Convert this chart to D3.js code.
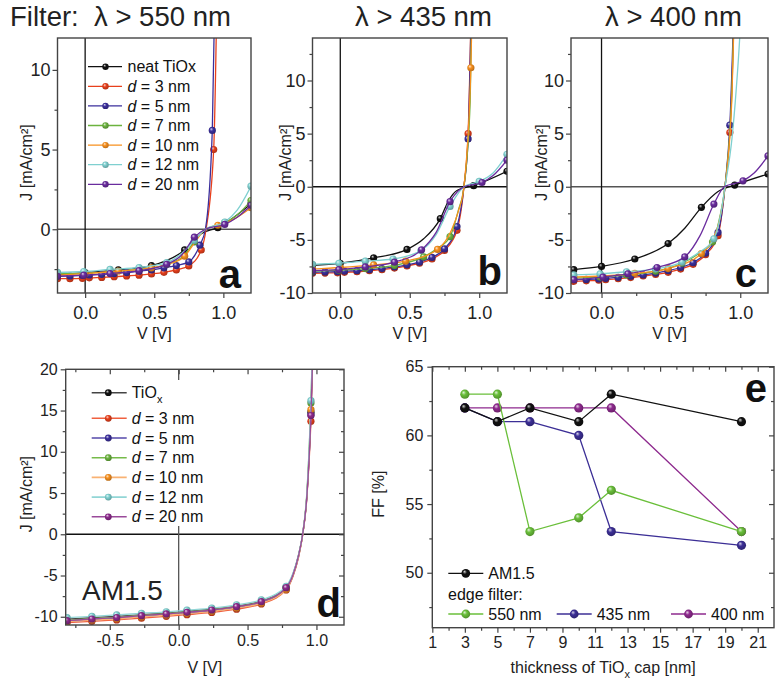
<!DOCTYPE html>
<html><head><meta charset="utf-8">
<script src="https://cdn.jsdelivr.net/npm/d3@7"></script>
<style>body{margin:0;background:#fff}svg{display:block}</style>
</head><body>
<svg id="chart" width="779" height="687"></svg>
<script>
const FONT = "'Liberation Sans', Arial, Helvetica, sans-serif";

// ---------- shared labels ----------
const filterTitles = ["Filter:  \u03bb > 550 nm", "\u03bb > 435 nm", "\u03bb > 400 nm"];
const seriesLabels = ["neat TiOx", "3", "5", "7", "10", "12", "20"];
const seriesColors = ["#111111", "#e8401c", "#3b2f9c", "#6cb33f", "#f7901e", "#7fd0d0", "#6a2c9e"];
const seriesColorsD = ["#111111", "#e8401c", "#3b2f9c", "#6cb33f", "#f7901e", "#7fd0d0", "#8c2a8c"];
const lineColorsD = ["#444444", "#f0603f", "#5548aa", "#76bb4a", "#f9b273", "#92d6d6", "#9a4a9a"];

// ---------- panel a: lambda > 550 nm  [V, J, marker?] ----------
const jvA = [
  [[-0.2,-2.85],[0,-2.72],[0.24,-2.55],[0.48,-2.28],[0.72,-1.3],[0.84,-0.28,0],[0.96,0.1],[1.2,1.6]],
  [[-0.2,-3.1],[-0.11,-3.1],[-0.02,-3.08],[0.03,-3.05],[0.12,-3.02],[0.21,-2.98],[0.3,-2.93],[0.39,-2.88],[0.48,-2.8],[0.57,-2.7],[0.66,-2.55],[0.75,-2.3],[0.84,-1.3],[0.875,0,0],[0.93,5.0],[0.97,25,0]],
  [[-0.2,-2.95],[-0.11,-2.93],[-0.02,-2.9],[0.03,-2.87],[0.12,-2.83],[0.21,-2.78],[0.3,-2.72],[0.39,-2.63],[0.48,-2.55],[0.57,-2.42],[0.66,-2.28],[0.75,-2.05],[0.83,-1.0],[0.87,0,0],[0.92,6.2],[0.96,25,0]],
  [[-0.2,-2.8],[-0.01,-2.76],[0.18,-2.67],[0.39,-2.52],[0.59,-2.2],[0.7,-1.75,0],[0.79,-0.8],[0.87,0,0],[1.01,0.4],[1.1,0.9,0],[1.2,1.8]],
  [[-0.2,-2.88],[0,-2.78],[0.24,-2.62],[0.48,-2.42],[0.6,-2.2,0],[0.72,-1.69],[0.8,-0.75,0],[0.87,0,0],[0.96,0.25],[1.08,0.65,0],[1.2,1.35]],
  [[-0.2,-2.7],[-0.01,-2.65],[0.18,-2.52],[0.39,-2.4],[0.59,-2.1],[0.7,-1.5,0],[0.79,-0.7],[0.87,0,0],[1.01,0.45],[1.1,1.2,0],[1.2,2.7]],
  [[-0.2,-2.95],[-0.01,-2.88],[0.18,-2.78],[0.39,-2.6],[0.59,-2.2],[0.7,-1.6,0],[0.79,-0.5],[0.87,0,0],[1.01,0.3],[1.1,0.75,0],[1.2,1.5]]
];

// ---------- panel b: lambda > 435 nm ----------
const jvB = [
  [[-0.2,-7.4],[0,-7.2],[0.24,-6.7],[0.48,-5.9],[0.6,-4.9,0],[0.72,-3.0],[0.78,-1.3,0],[0.84,-0.35,0],[0.96,0.1],[1.2,1.45]],
  [[-0.2,-8.15],[-0.11,-8.12],[-0.02,-8.1],[0.03,-8.05],[0.12,-8.0],[0.21,-7.9],[0.3,-7.8],[0.39,-7.65],[0.48,-7.45],[0.57,-7.2],[0.66,-6.8],[0.75,-6.0],[0.84,-4.1],[0.89,0,0],[0.92,5.0],[0.96,30,0]],
  [[-0.2,-8.05],[-0.11,-8.02],[-0.02,-8.0],[0.03,-7.95],[0.12,-7.9],[0.21,-7.8],[0.3,-7.7],[0.39,-7.55],[0.48,-7.35],[0.57,-7.1],[0.66,-6.65],[0.75,-5.85],[0.84,-3.75],[0.89,0,0],[0.92,4.5],[0.96,30,0]],
  [[-0.2,-7.95],[-0.01,-7.85],[0.18,-7.7],[0.39,-7.4],[0.6,-6.6],[0.7,-5.8,0],[0.79,-4.7],[0.85,-2.2,0],[0.89,0,0],[0.935,8,0],[0.965,30,0]],
  [[-0.2,-7.75],[0,-7.6],[0.24,-7.35],[0.47,-7.0],[0.7,-5.9],[0.8,-4.1,0],[0.85,-2.3,0],[0.89,0,0],[0.94,11.2],[0.97,30,0]],
  [[-0.2,-7.3],[-0.01,-7.2],[0.18,-7.0],[0.38,-6.8],[0.58,-6.0],[0.69,-4.5,0],[0.79,-1.85],[0.89,0,0],[1.0,0.5],[1.1,1.3,0],[1.2,3.05]],
  [[-0.2,-7.9],[-0.01,-7.8],[0.18,-7.55],[0.39,-7.1],[0.585,-5.94],[0.69,-4.3,0],[0.79,-1.4],[0.89,0,0],[1.02,0.4],[1.1,1.05,0],[1.2,2.5]]
];

// ---------- panel c: lambda > 400 nm ----------
const jvC = [
  [[-0.2,-7.8],[0,-7.5],[0.24,-6.8],[0.48,-5.35],[0.6,-3.9,0],[0.72,-1.94],[0.84,-0.45,0],[0.96,0.16],[1.2,1.2]],
  [[-0.2,-8.9],[-0.11,-8.85],[-0.02,-8.8],[0.03,-8.75],[0.12,-8.65],[0.21,-8.55],[0.3,-8.4],[0.39,-8.25],[0.48,-8.05],[0.57,-7.75],[0.66,-7.3],[0.75,-6.4],[0.84,-4.6],[0.89,0,0],[0.925,5.1],[0.985,30,0]],
  [[-0.2,-8.75],[-0.11,-8.72],[-0.02,-8.68],[0.03,-8.62],[0.12,-8.52],[0.21,-8.42],[0.3,-8.3],[0.39,-8.12],[0.48,-7.9],[0.57,-7.6],[0.66,-7.15],[0.75,-6.25],[0.84,-4.3],[0.89,0,0],[0.925,5.8],[0.98,30,0]],
  [[-0.2,-8.6],[-0.01,-8.5],[0.18,-8.3],[0.39,-7.95],[0.58,-7.2],[0.7,-6.3,0],[0.8,-5.2],[0.85,-3.0,0],[0.89,0,0],[0.94,9,0],[0.985,30,0]],
  [[-0.2,-8.5],[0,-8.4],[0.24,-8.15],[0.48,-7.7],[0.72,-6.3],[0.8,-5.0,0],[0.85,-3.2,0],[0.89,0,0],[0.94,8.5,0],[0.985,30,0]],
  [[-0.2,-8.3],[-0.01,-8.2],[0.18,-8.0],[0.39,-7.75],[0.58,-7.1],[0.7,-6.2,0],[0.81,-4.9],[0.86,-2.5,0],[0.89,0,0],[0.94,4.5,0],[0.97,9,0],[1.0,15,0],[1.03,25,0]],
  [[-0.2,-8.75],[0.01,-8.5],[0.19,-8.2],[0.4,-7.6],[0.6,-6.6],[0.71,-4.6,0],[0.81,-1.63],[0.885,0,0],[1.02,0.56],[1.1,1.3,0],[1.2,2.9]]
];

// ---------- panel d: AM1.5 ----------
const vD    = [-0.81,-0.63,-0.45,-0.27,-0.09,0.06,0.24,0.42,0.6,0.78,0.83,0.87,0.9,0.93,0.96,0.99];
const markD = [1,1,1,1,1,1,1,1,1,1,0,0,0,0,1,0];
const jD = [
  [-10.3,-10.12,-9.95,-9.75,-9.55,-9.35,-9.08,-8.7,-8.1,-6.4,-4.8,-2.5,0,4.6,14.8,32],
  [-10.7,-10.55,-10.38,-10.17,-9.95,-9.75,-9.48,-9.08,-8.45,-6.75,-5.1,-2.8,-0.1,4.3,13.7,31],
  [-10.55,-10.38,-10.2,-9.98,-9.78,-9.58,-9.3,-8.9,-8.3,-6.6,-5.0,-2.7,0,4.5,14.5,32],
  [-10.4,-10.22,-10.05,-9.82,-9.62,-9.42,-9.14,-8.75,-8.15,-6.5,-4.9,-2.6,0,4.8,15.9,34],
  [-10.6,-10.42,-10.25,-10.02,-9.82,-9.62,-9.34,-8.95,-8.35,-6.7,-5.0,-2.7,0,4.7,15.1,33],
  [-10.1,-9.95,-9.78,-9.58,-9.4,-9.2,-8.95,-8.55,-7.95,-6.3,-4.7,-2.5,0.1,5.0,16.2,34],
  [-10.47,-10.27,-10.1,-9.87,-9.66,-9.46,-9.18,-8.78,-8.17,-6.48,-4.9,-2.6,0,4.5,14.4,32]
];

// ---------- panel e: fill factor ----------
const thickness = [3, 5, 7, 10, 12, 20];
const ffAM15 = [62, 61, 62, 61, 63, 61];
const ff550  = [63, 63, 53, 54, 56, 53];
const ff435  = [62, 61, 61, 60, 53, 52];
const ff400  = [62, 62, 62, 62, 62, 53];
const ffNames  = ["AM1.5", "550 nm", "435 nm", "400 nm"];
const ffColors = ["#111111", "#6abf3a", "#3c2f96", "#8e2a8e"];

// ---------- tick values ----------
const xMajorJV = [0, 0.5, 1.0], xMinorJV = [0.25, 0.75];
const yMajorA = [0, 5, 10], yMinorA = [-2.5, 2.5, 7.5];
const yMajorBC = [-10, -5, 0, 5, 10], yMinorBC = [-7.5, -2.5, 2.5, 7.5, 12.5];
const xMajorD = [-0.5, 0, 0.5, 1.0], xMinorD = [-0.75, -0.25, 0.25, 0.75];
const yMajorD = [-10, -5, 0, 5, 10, 15, 20], yMinorD = [-7.5, -2.5, 2.5, 7.5, 12.5, 17.5];
const xMajorE = [1,3,5,7,9,11,13,15,17,19,21], xMinorE = [2,4,6,8,10,12,14,16,18,20];
const yMajorE = [50, 55, 60, 65], yMinorE = [47.5, 52.5, 57.5, 62.5];

// ================= drawing =================
const svg = d3.select("#chart");
const defs = svg.append("defs");
const gradCache = {};
function ball(color) {
  if (gradCache[color]) return gradCache[color];
  const id = "ball" + Object.keys(gradCache).length;
  const g = defs.append("radialGradient").attr("id", id)
    .attr("cx", "45%").attr("cy", "45%").attr("r", "60%").attr("fx", "35%").attr("fy", "30%");
  g.append("stop").attr("offset", "0%").attr("stop-color", d3.interpolateRgb(color, "#ffffff")(0.8));
  g.append("stop").attr("offset", "40%").attr("stop-color", color);
  g.append("stop").attr("offset", "100%").attr("stop-color", d3.color(color).darker(0.9).formatHex());
  gradCache[color] = "url(#" + id + ")";
  return gradCache[color];
}

let clipCount = 0;
function makePanel(cfg) {
  const x = d3.scaleLinear().domain(cfg.xd).range([cfg.x0, cfg.x1]);
  const y = d3.scaleLinear().domain(cfg.yd).range([cfg.y1, cfg.y0]);
  const id = "clip" + (clipCount++);
  defs.append("clipPath").attr("id", id).append("rect")
    .attr("x", cfg.x0).attr("y", cfg.y0).attr("width", cfg.x1 - cfg.x0).attr("height", cfg.y1 - cfg.y0);
  const g = svg.append("g");
  const inner = g.append("g").attr("clip-path", "url(#" + id + ")");
  return { x, y, g, inner, cfg };
}

function styleAxis(sel, fs) {
  sel.selectAll(".domain").remove();
  sel.selectAll(".tick line").attr("stroke", "#444").attr("stroke-width", 1.2);
  sel.selectAll(".tick text").style("font-family", FONT).style("font-size", fs + "px").attr("fill", "#222");
}

function drawAxes(p, o) {
  const { x, y, g, cfg } = p;
  const fmtX = o.xFmt || (d => d.toFixed(1));
  const fmtY = d => String(d);
  const b = g.append("g").attr("transform", `translate(0,${cfg.y1})`);
  b.call(d3.axisBottom(x).tickValues(o.xMajor).tickSize(5).tickPadding(o.xPad).tickFormat(fmtX));
  b.append("g").call(d3.axisBottom(x).tickValues(o.xMinor).tickSize(3).tickFormat(""));
  const l = g.append("g").attr("transform", `translate(${cfg.x0},0)`);
  l.call(d3.axisLeft(y).tickValues(o.yMajor).tickSize(5).tickPadding(o.yPad).tickFormat(fmtY));
  l.append("g").call(d3.axisLeft(y).tickValues(o.yMinor).tickSize(3).tickFormat(""));
  styleAxis(b, o.fs); styleAxis(l, o.fs);
  if (o.mirror) {
    const t = g.append("g").attr("transform", `translate(0,${cfg.y0})`);
    t.call(d3.axisTop(x).tickValues(o.xMajor).tickSize(-5).tickFormat(""));
    t.append("g").call(d3.axisTop(x).tickValues(o.xMinor).tickSize(-3).tickFormat(""));
    const r = g.append("g").attr("transform", `translate(${cfg.x1},0)`);
    r.call(d3.axisRight(y).tickValues(o.yMajor).tickSize(-5).tickFormat(""));
    r.append("g").call(d3.axisRight(y).tickValues(o.yMinor).tickSize(-3).tickFormat(""));
    styleAxis(t, o.fs); styleAxis(r, o.fs);
  }
  g.append("rect").attr("x", cfg.x0).attr("y", cfg.y0)
    .attr("width", cfg.x1 - cfg.x0).attr("height", cfg.y1 - cfg.y0)
    .attr("fill", "none").attr("stroke", "#444").attr("stroke-width", 1.4);
}

function zeroLines(p, hColor, vColor) {
  const { x, y, inner, cfg } = p;
  inner.append("line").attr("x1", cfg.x0).attr("x2", cfg.x1).attr("y1", y(0)).attr("y2", y(0))
    .attr("stroke", hColor).attr("stroke-width", 1.5);
  inner.append("line").attr("x1", x(0)).attr("x2", x(0)).attr("y1", cfg.y0).attr("y2", cfg.y1)
    .attr("stroke", vColor).attr("stroke-width", 1.3);
}

function drawSeries(p, pts, color, lineColor, r) {
  const { x, y, inner } = p;
  const line = d3.line().x(d => x(d[0])).y(d => y(d[1])).curve(d3.curveMonotoneX);
  inner.append("path").attr("d", line(pts)).attr("fill", "none")
    .attr("stroke", lineColor).attr("stroke-width", 1.3);
  inner.selectAll(null).data(pts.filter(d => d[2] !== 0)).enter().append("circle")
    .attr("cx", d => x(d[0])).attr("cy", d => y(d[1])).attr("r", r)
    .attr("fill", ball(color));
}

function axisTitles(p, xt, xy, yt, yx) {
  const { g, cfg } = p;
  const tx = g.append("text").attr("x", (cfg.x0 + cfg.x1) / 2).attr("y", xy)
    .attr("text-anchor", "middle").style("font-family", FONT).style("font-size", "16px").attr("fill", "#222");
  xt(tx);
  const ty = g.append("text")
    .attr("transform", `translate(${yx},${(cfg.y0 + cfg.y1) / 2 - 3}) rotate(-90)`)
    .attr("text-anchor", "middle").attr("dominant-baseline", "central")
    .style("font-family", FONT).style("font-size", "16px").attr("fill", "#222");
  yt(ty);
}
const jLabel = t => t.text("J [mA/cm\u00b2]");
const vLabel = t => t.text("V [V]");

function letter(p, ch, xr, yb) {
  p.g.append("text").attr("x", xr).attr("y", yb).attr("text-anchor", "end")
    .style("font-family", FONT).style("font-size", "40px").style("font-weight", "bold")
    .attr("fill", "#111").text(ch);
}

function legendLabel(t, i, isD) {
  if (i === 0) {
    if (isD) {
      t.append("tspan").text("TiO");
      t.append("tspan").attr("dy", 5).style("font-size", "11px").text("x");
    } else t.text(seriesLabels[0]);
  } else {
    t.append("tspan").style("font-style", "italic").text("d");
    t.append("tspan").text(" = " + seriesLabels[i] + " nm");
  }
}

// ---- panels a, b, c ----
const jvPanels = [
  { data: jvA, cfg: { x0: 57.5, x1: 251, y0: 38, y1: 293, xd: [-0.2, 1.2], yd: [-4, 12] }, yMajor: yMajorA, yMinor: yMinorA, ylx: 26, h: "#555", v: "#111", L: "a", lx: 241, ly: 288 },
  { data: jvB, cfg: { x0: 312.5, x1: 507, y0: 38, y1: 293, xd: [-0.2, 1.2], yd: [-10, 14] }, yMajor: yMajorBC, yMinor: yMinorBC, ylx: 285, h: "#111", v: "#111", L: "b", lx: 502, ly: 285 },
  { data: jvC, cfg: { x0: 571, x1: 768, y0: 38, y1: 293, xd: [-0.22, 1.2], yd: [-10, 14] }, yMajor: yMajorBC, yMinor: yMinorBC, ylx: 541, h: "#555", v: "#111", L: "c", lx: 757, ly: 287 }
];
jvPanels.forEach((P, k) => {
  const p = makePanel(P.cfg);
  zeroLines(p, P.h, P.v);
  P.data.forEach((pts, i) => drawSeries(p, pts, seriesColors[i], seriesColors[i], 3.6));
  drawAxes(p, { xMajor: xMajorJV, xMinor: xMinorJV, yMajor: P.yMajor, yMinor: P.yMinor, fs: 18, xPad: 8, yPad: 2 });
  axisTitles(p, vLabel, 339, jLabel, P.ylx);
  letter(p, P.L, P.lx, P.ly);
  if (k === 0) {
    seriesLabels.forEach((s, i) => {
      const yy = 66.7 + i * 19.6;
      p.g.append("line").attr("x1", 88).attr("x2", 122).attr("y1", yy).attr("y2", yy)
        .attr("stroke", seriesColors[i]).attr("stroke-width", 1.3);
      p.g.append("circle").attr("cx", 105.5).attr("cy", yy).attr("r", 3.2).attr("fill", ball(seriesColors[i]));
      const t = p.g.append("text").attr("x", 127.5).attr("y", yy + 5.6)
        .style("font-family", FONT).style("font-size", "16px").attr("fill", "#111");
      legendLabel(t, i, false);
    });
  }
});

// titles
const titleX = [10, 355, 605];
filterTitles.forEach((t, i) => {
  svg.append("text").attr("x", titleX[i]).attr("y", 26).attr("xml:space", "preserve")
    .style("white-space", "pre").style("font-family", FONT).style("font-size", "27.5px")
    .attr("fill", "#222").text(t);
});

// ---- panel d ----
{
  const p = makePanel({ x0: 65.7, x1: 344, y0: 369.3, y1: 625, xd: [-0.82, 1.2], yd: [-11, 20] });
  zeroLines(p, "#111", "#555");
  jD.forEach((js, i) => {
    const pts = vD.map((v, k) => markD[k] ? [v, js[k]] : [v, js[k], 0]);
    drawSeries(p, pts, seriesColorsD[i], lineColorsD[i], 3.6);
  });
  p.g.append("rect").attr("x", 86).attr("y", 380).attr("width", 130).attr("height", 146).attr("fill", "#fff");
  seriesLabels.forEach((s, i) => {
    const yy = i === 0 ? 392.7 : 418.3 + (i - 1) * 19.7;
    p.g.append("line").attr("x1", 91.7).attr("x2", 126.7).attr("y1", yy).attr("y2", yy)
      .attr("stroke", lineColorsD[i]).attr("stroke-width", 1.6);
    p.g.append("circle").attr("cx", 108.3).attr("cy", yy).attr("r", 3.4).attr("fill", ball(seriesColorsD[i]));
    const t = p.g.append("text").attr("x", 131.7).attr("y", yy + 5.6)
      .style("font-family", FONT).style("font-size", "16px").attr("fill", "#111");
    legendLabel(t, i, true);
  });
  drawAxes(p, { xMajor: xMajorD, xMinor: xMinorD, yMajor: yMajorD, yMinor: yMinorD, fs: 16, xPad: 5, yPad: 3, mirror: true });
  axisTitles(p, vLabel, 673, jLabel, 26);
  p.g.append("text").attr("x", 82).attr("y", 600).style("font-family", FONT).style("font-size", "28px")
    .attr("fill", "#222").text("AM1.5");
  letter(p, "d", 341, 617);
}

// ---- panel e ----
{
  const p = makePanel({ x0: 432.3, x1: 774, y0: 366.7, y1: 627.7, xd: [1, 22], yd: [46, 65] });
  const { x, y, inner, g } = p;
  const seriesE = [ffAM15, ff550, ff435, ff400];
  const drawOrder = [3, 2, 1, 0];
  const line = d3.line().x((d, k) => x(thickness[k])).y(d => y(d));
  drawOrder.forEach(i => {
    inner.append("path").attr("d", line(seriesE[i])).attr("fill", "none")
      .attr("stroke", ffColors[i]).attr("stroke-width", 1.3);
    inner.selectAll(null).data(seriesE[i]).enter().append("circle")
      .attr("cx", (d, k) => x(thickness[k])).attr("cy", d => y(d)).attr("r", 4.6)
      .attr("fill", ball(ffColors[i]));
  });
  drawAxes(p, { xMajor: xMajorE, xMinor: xMinorE, yMajor: yMajorE, yMinor: yMinorE, fs: 16, xPad: 4, yPad: 4, mirror: true, xFmt: d => String(d) });
  axisTitles(p, t => {
    t.append("tspan").text("thickness of TiO");
    t.append("tspan").attr("dy", 5).style("font-size", "11px").text("x");
    t.append("tspan").attr("dy", -5).text(" cap [nm]");
  }, 673, t => t.text("FF [%]"), 378);
  const legRows = [
    { i: 0, lx: 448.3, ly: 573.3 },
    { i: 1, lx: 448.3, ly: 614 },
    { i: 2, lx: 556.7, ly: 614 },
    { i: 3, lx: 671, ly: 614 }
  ];
  legRows.forEach(r => {
    g.append("line").attr("x1", r.lx).attr("x2", r.lx + 35).attr("y1", r.ly).attr("y2", r.ly)
      .attr("stroke", ffColors[r.i]).attr("stroke-width", 1.3);
    g.append("circle").attr("cx", r.lx + 17.5).attr("cy", r.ly).attr("r", 4.4).attr("fill", ball(ffColors[r.i]));
    g.append("text").attr("x", r.lx + 40).attr("y", r.ly + 5.8).style("font-family", FONT)
      .style("font-size", "16px").attr("fill", "#111").text(ffNames[r.i]);
  });
  g.append("text").attr("x", 448).attr("y", 599.5).style("font-family", FONT).style("font-size", "16px")
    .attr("fill", "#111").text("edge filter:");
  letter(p, "e", 767, 402);
}
</script>
</body></html>
